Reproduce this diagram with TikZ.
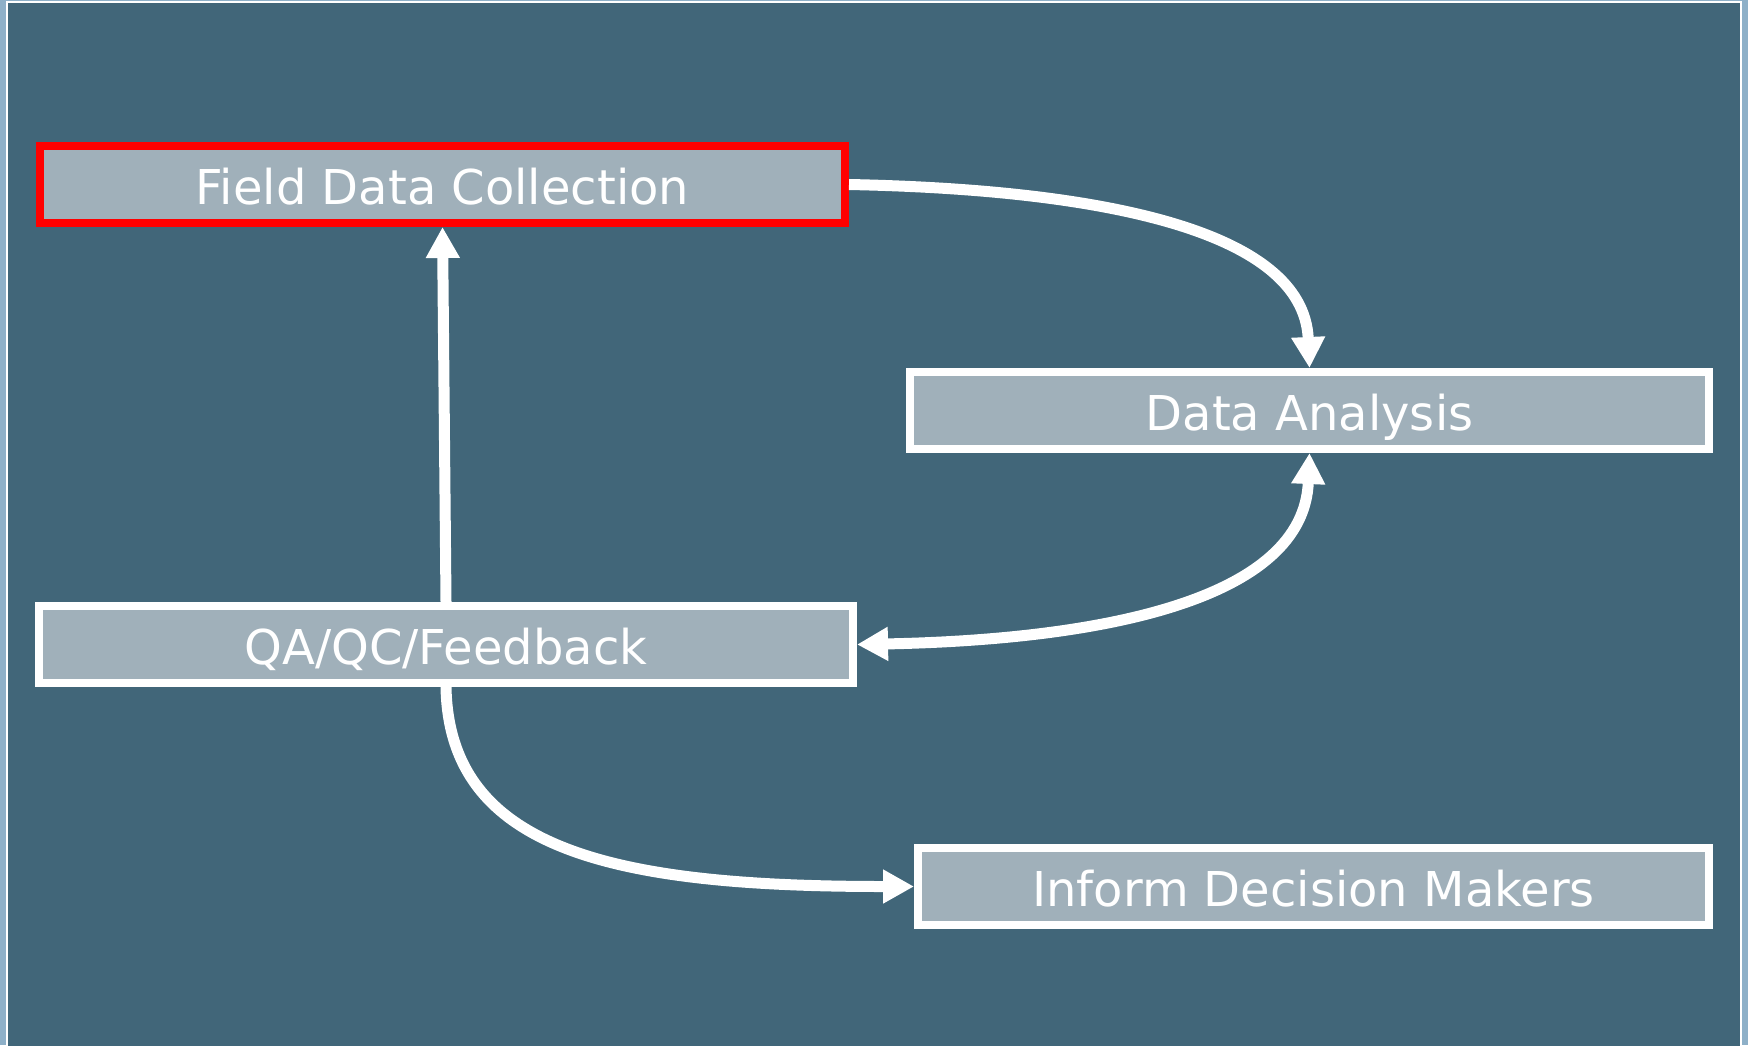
\documentclass[tikz,border=0pt]{standalone}
\usepackage{fontspec}
\setsansfont{DejaVu Sans}
\usepackage{tikz}
\usetikzlibrary{positioning, arrows.meta, calc}
\definecolor{pagebg}{RGB}{142,176,200}
\definecolor{panelblue}{RGB}{65,102,121}
\definecolor{boxgray}{RGB}{160,176,186}
\definecolor{boxred}{RGB}{255,0,0}

\begin{document}
\begin{tikzpicture}[x=0.5pt, y=-0.5pt, font=\sffamily\fontsize{24}{29}\selectfont,
stage/.style={rectangle, draw=#1, line width=4pt, fill=boxgray, text=white,
minimum height=38.5pt, inner sep=0pt, text height=19.5pt, text depth=0pt, align=center},
arrow/.style={->, line width=5.5pt, draw=white, >={Triangle[length=15.5pt, width=16pt]}}
]

% Background panel
\useasboundingbox (0,0) rectangle (1748,1045);
\fill[pagebg] (0,0) rectangle (1748,1045);
\filldraw[fill=panelblue, draw=white, line width=1pt] (6.5,1.5) rectangle (1741,1060);

% Field data
\node[stage=boxred, minimum width=402.5pt] (field) at (442.5,184.5) {Field Data Collection};

% Analysis
\node[stage=white, minimum width=399.5pt] (analysis) at (1309.5,410.5) {Data Analysis};

% QA/QC
\node[stage=white, minimum width=407pt] (qa) at (446,644.5) {QA/QC/Feedback};

% Decision makers
\node[stage=white, minimum width=395.5pt] (inform) at (1313.5,886.5) {Inform Decision Makers};

% Arrows
\draw[arrow] (field.east) .. controls +(251,5) and +(-6,-138) .. (analysis.north);
\draw[arrow, <->] (analysis.south) .. controls +(-6,145) and +(251,-5) .. (qa.east);
\draw[arrow] (qa.north) -- (field.south);
\draw[arrow] (qa.south) .. controls +(3,165) and +(-296,0) .. (inform.west);

\end{tikzpicture}
\end{document}
